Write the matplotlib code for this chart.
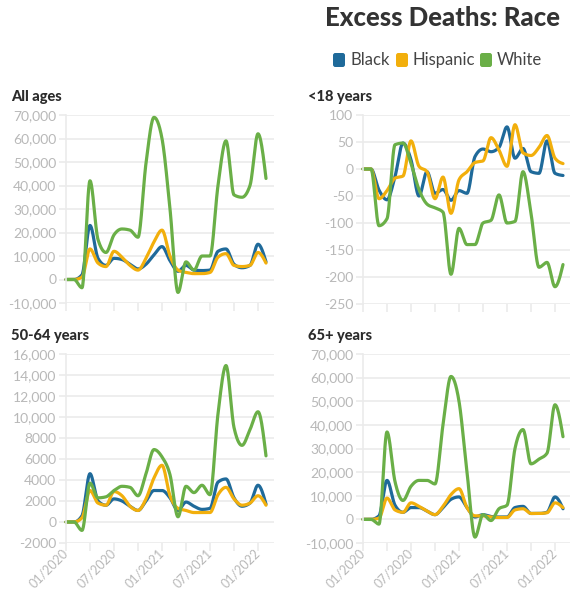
import numpy as np
import matplotlib
matplotlib.use("Agg")
import matplotlib.pyplot as plt
import matplotlib.transforms as mtransforms
from matplotlib.patches import FancyBboxPatch
from matplotlib.ticker import FuncFormatter, FixedLocator

plt.rcParams['font.family'] = ['Lato', 'DejaVu Sans']

# ---------------- data (monthly, 01/2020 .. 02/2022) ----------------
months = ["01/2020", "02/2020", "03/2020", "04/2020", "05/2020", "06/2020",
          "07/2020", "08/2020", "09/2020", "10/2020", "11/2020", "12/2020",
          "01/2021", "02/2021", "03/2021", "04/2021", "05/2021", "06/2021",
          "07/2021", "08/2021", "09/2021", "10/2021", "11/2021", "12/2021",
          "01/2022", "02/2022"]
races = ["Black", "Hispanic", "White"]
panels = ["All ages", "<18 years", "50-64 years", "65+ years"]

all_black = [0, 0, 2000, 23000, 9000, 6000, 9000, 8500, 6500, 4500, 6500, 10500,
             14000, 8000, 3500, 6000, 4000, 3800, 4000, 12000, 13000, 6500, 5000,
             6000, 15000, 7500]
all_hisp = [0, 0, 1000, 13000, 7000, 5500, 12000, 9500, 6000, 4000, 9000, 16000,
            21000, 10000, 4000, 3000, 2500, 2500, 3000, 9500, 11000, 6000, 5500,
            6000, 11500, 7000]
all_white = [0, 0, -3500, 42000, 17000, 11500, 19000, 21500, 21000, 18000, 49500,
             69000, 60000, 30000, -5500, 7500, 4000, 10000, 10000, 40000, 59000,
             36000, 35000, 40000, 62000, 43000]

u18_black = [0, 0, -39, -57, -14, 48, 17, -50, -5, -45, -38, -58, -40, -45, 23,
             37, 32, 40, 78, 20, 38, -5, -8, 52, -8, -12]
u18_hisp = [0, 0, -55, -40, -17, -13, 52, 5, -5, -55, -15, -82, -20, -5, 12, 15,
            58, 35, 5, 82, 30, 25, 40, 62, 20, 10]
u18_white = [0, 0, -105, -92, 45, 48, 10, -38, -65, -72, -80, -195, -110, -140,
             -140, -100, -95, -48, -100, -97, -5, -82, -182, -173, -218, -177]

m50_black = [0, 0, 600, 4600, 2000, 1600, 2200, 2000, 1500, 1100, 2000, 3000,
             3000, 2300, 1100, 1900, 1500, 1200, 1300, 3800, 4100, 2300, 1500,
             1800, 3500, 1700]
m50_hisp = [0, 0, 400, 3000, 1800, 1600, 2900, 2500, 1500, 1100, 2200, 4200,
            5400, 2500, 1300, 1100, 900, 900, 900, 2600, 3300, 2200, 1600, 1800,
            2500, 1600]
m50_white = [0, 0, -800, 3700, 2300, 2400, 3000, 3400, 3300, 2500, 4600, 6900,
             6200, 4500, 500, 3400, 2800, 3500, 2600, 10300, 14900, 9000, 7300,
             8800, 10500, 6300]

o65_black = [0, 0, 1500, 16500, 6000, 3000, 5000, 5000, 3500, 2000, 5000, 8500,
             9500, 5000, 1000, 2000, 1200, 1000, 1000, 5000, 5500, 2500, 2500,
             3000, 9500, 4500]
o65_hisp = [0, 0, 500, 9000, 4000, 3000, 7000, 5500, 3500, 2000, 5500, 10500,
            13000, 5000, 1500, 1500, 1000, 800, 800, 4000, 4500, 2500, 2500, 2800,
            7000, 5000]
o65_white = [0, 0, -2000, 37000, 16000, 8000, 14000, 16500, 16500, 15000, 40000,
             60500, 50000, 20000, -7500, 2000, -500, 4500, 6000, 30000, 38000,
             23500, 25500, 28000, 48500, 35000]

ylims = [(-10000, 70000), (-250, 100), (-2000, 16000), (-10000, 70000)]
ysteps = [10000, 50, 2000, 10000]
colors = {"Black": "#1f6a9a", "Hispanic": "#f2af0c", "White": "#6aaf47"}

series = [
    [all_black, all_hisp, all_white],
    [u18_black, u18_hisp, u18_white],
    [m50_black, m50_hisp, m50_white],
    [o65_black, o65_hisp, o65_white],
]


def monotone_curve(y, n=24):
    """Render helper: monotone cubic (d3 curveMonotoneX style) through points."""
    y = np.asarray(y, float)
    x = np.arange(len(y), dtype=float)
    s = np.diff(y)  # h = 1
    m = np.zeros_like(y)
    for i in range(1, len(y) - 1):
        s0, s1 = s[i - 1], s[i]
        p = (s0 + s1) / 2
        m[i] = (np.sign(s0) + np.sign(s1)) * min(abs(s0), abs(s1), 0.5 * abs(p))
    m[0] = (3 * s[0] - m[1]) / 2
    m[-1] = (3 * s[-1] - m[-2]) / 2
    xs, ys = [], []
    t = np.linspace(0, 1, n, endpoint=False)
    for i in range(len(y) - 1):
        h00 = 2 * t**3 - 3 * t**2 + 1
        h10 = t**3 - 2 * t**2 + t
        h01 = -2 * t**3 + 3 * t**2
        h11 = t**3 - t**2
        xs.append(x[i] + t)
        ys.append(h00 * y[i] + h10 * m[i] + h01 * y[i + 1] + h11 * m[i + 1])
    xs.append([x[-1]])
    ys.append([y[-1]])
    return np.concatenate(xs), np.concatenate(ys)


W, H = 570, 592
fig = plt.figure(figsize=(W / 100, H / 100), dpi=100)


def px_axes(l, r, t, b):
    return fig.add_axes([l / W, 1 - b / H, (r - l) / W, (b - t) / H])


boxes = [(66, 274, 115, 303), (363, 571, 115, 304),
         (66, 274, 354, 543), (363, 571, 354, 543)]

grid_c = "#ebebeb"
tick_c = "#b8b8b8"

for k, (l, r, t, b) in enumerate(boxes):
    ax = px_axes(l, r, t, b)
    for spine in ax.spines.values():
        spine.set_visible(False)
    ax.spines['left'].set_visible(True)
    ax.spines['left'].set_color(grid_c)
    ax.spines['left'].set_linewidth(1.2)
    lo, hi = ylims[k]
    ax.set_ylim(lo, hi)
    ax.set_xlim(0, 26)
    yt = np.arange(lo, hi + 1, ysteps[k])
    ax.set_yticks(yt)
    ax.yaxis.grid(True, color=grid_c, linewidth=1.2)
    ax.set_axisbelow(True)
    if k == 2:
        fmt = FuncFormatter(lambda v, p: f"{int(v)}" if abs(v) < 10000 else f"{int(v):,}")
    else:
        fmt = FuncFormatter(lambda v, p: f"{int(v):,}")
    ax.yaxis.set_major_formatter(fmt)
    ax.tick_params(axis='y', colors=grid_c, labelcolor=tick_c, labelsize=10,
                   length=5, width=1.2, pad=2)
    xt = list(range(0, 26, 3))
    ax.xaxis.set_major_locator(FixedLocator(xt))
    if k >= 2:
        ax.set_xticklabels([months[i] if i % 6 == 0 else "" for i in xt],
                           rotation=45, ha='right', va='center',
                           rotation_mode='anchor')
        off = mtransforms.ScaledTranslation(6 / 100, 2 / 100, fig.dpi_scale_trans)
        for lab in ax.get_xticklabels():
            lab.set_transform(lab.get_transform() + off)
    else:
        ax.set_xticklabels([])
    ax.tick_params(axis='x', colors=grid_c, labelcolor=tick_c, labelsize=9,
                   length=6, width=1.2, pad=0)
    for race, vals in zip(races, series[k]):
        cx, cy = monotone_curve(vals)
        ax.plot(cx, cy, color=colors[race], lw=2.3, solid_capstyle='round',
                clip_on=False)
    tx = 11 if k in (0, 2) else 308
    ty = 97 if k < 2 else 336
    fig.text(tx / W, 1 - ty / H, panels[k], fontsize=10.5, fontweight='black',
             color="#2b2b2b", va='center', ha='left')

# title
fig.text(560 / W, 1 - 18 / H, "Excess Deaths: Race", fontsize=18.5,
         fontweight='black', color="#333333", ha='right', va='center')

# legend
leg_items = [("Black", 333), ("Hispanic", 396), ("White", 480)]
for name, x0 in leg_items:
    sw = FancyBboxPatch(((x0) / W, 1 - 67 / H), 12 / W, 14 / H,
                        boxstyle="round,pad=0,rounding_size=0.004",
                        transform=fig.transFigure, facecolor=colors[name],
                        edgecolor='none')
    fig.add_artist(sw)
    fig.text((x0 + 17) / W, 1 - 60 / H, name, fontsize=12, color="#444444",
             ha='left', va='center')

fig.savefig("out.png", dpi=100)
